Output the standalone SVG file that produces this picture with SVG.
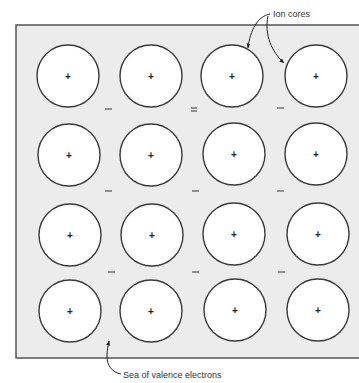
<svg xmlns="http://www.w3.org/2000/svg" width="359" height="383" viewBox="0 0 359 383">
<defs>
<style>
.core{fill:#fff;stroke:#3a3a3a;stroke-width:1.4}
.plus{font-family:"Liberation Sans",Arial,sans-serif;font-size:10px;font-weight:bold;fill:#222;text-anchor:middle}
.minus{stroke:#555;stroke-width:1.2}
.lbl{font-family:"Liberation Sans",Arial,sans-serif;font-size:9px;fill:#333}
.arr{fill:none;stroke:#222;stroke-width:1;marker-end:url(#ah)}
</style>
<marker id="ah" viewBox="0 0 10 10" refX="9" refY="5" markerWidth="5" markerHeight="5" orient="auto">
<path d="M0,1 L10,5 L0,9 Z" fill="#222"/>
</marker>
</defs>
<rect width="359" height="383" fill="#fff"/>
<g id="crystal">
<rect x="16" y="25" width="350" height="333" fill="#ececec" stroke="#555" stroke-width="1.5"/>
</g>
<g id="minus-signs">
<line class="minus" x1="105" y1="109" x2="112" y2="109"/>
<line class="minus" x1="191" y1="108" x2="197" y2="108"/>
<line class="minus" x1="191" y1="111" x2="197" y2="111"/>
<line class="minus" x1="277" y1="108" x2="284" y2="108"/>
<line class="minus" x1="105" y1="191" x2="112" y2="191"/>
<line class="minus" x1="192" y1="191" x2="199" y2="191"/>
<line class="minus" x1="277" y1="191" x2="284" y2="191"/>
<line class="minus" x1="108" y1="272" x2="115" y2="272"/>
<line class="minus" x1="192" y1="272" x2="199" y2="272"/>
<line class="minus" x1="278" y1="272" x2="285" y2="272"/>
</g>
<g id="row1">
<g id="c11"><circle class="core" cx="68" cy="76" r="31"/><text class="plus" x="68" y="79.5">+</text></g>
<g id="c12"><circle class="core" cx="151" cy="76" r="31"/><text class="plus" x="151" y="79.5">+</text></g>
<g id="c13"><circle class="core" cx="232" cy="76" r="31"/><text class="plus" x="232" y="79.5">+</text></g>
<g id="c14"><circle class="core" cx="316" cy="76" r="31"/><text class="plus" x="316" y="79.5">+</text></g>
</g>
<g id="row2">
<g id="c21"><circle class="core" cx="69" cy="155" r="31"/><text class="plus" x="69" y="158.5">+</text></g>
<g id="c22"><circle class="core" cx="151" cy="155" r="31"/><text class="plus" x="151" y="158.5">+</text></g>
<g id="c23"><circle class="core" cx="234" cy="154" r="31"/><text class="plus" x="234" y="157.5">+</text></g>
<g id="c24"><circle class="core" cx="316" cy="154" r="31"/><text class="plus" x="316" y="157.5">+</text></g>
</g>
<g id="row3">
<g id="c31"><circle class="core" cx="70" cy="235" r="31"/><text class="plus" x="70" y="238.5">+</text></g>
<g id="c32"><circle class="core" cx="152" cy="235" r="31"/><text class="plus" x="152" y="238.5">+</text></g>
<g id="c33"><circle class="core" cx="234" cy="234" r="31"/><text class="plus" x="234" y="237.5">+</text></g>
<g id="c34"><circle class="core" cx="318" cy="234" r="31"/><text class="plus" x="318" y="237.5">+</text></g>
</g>
<g id="row4">
<g id="c41"><circle class="core" cx="70" cy="311" r="31"/><text class="plus" x="70" y="314.5">+</text></g>
<g id="c42"><circle class="core" cx="151" cy="311" r="31"/><text class="plus" x="151" y="314.5">+</text></g>
<g id="c43"><circle class="core" cx="235" cy="310" r="31"/><text class="plus" x="235" y="313.5">+</text></g>
<g id="c44"><circle class="core" cx="318" cy="310" r="31"/><text class="plus" x="318" y="313.5">+</text></g>
</g>
<g id="connectors">
<path class="arr" d="M270,14 C258,16 250,30 248,48"/>
<path class="arr" d="M268,16 C264,35 272,52 284,63"/>
<path class="arr" d="M121,374 C112,372 107,366 107,356 C107,350 108,346 109,341"/>
</g>
<g id="labels">
<text class="lbl" x="273" y="17">Ion cores</text>
<text class="lbl" x="123" y="378">Sea of valence electrons</text>
</g>
</svg>
